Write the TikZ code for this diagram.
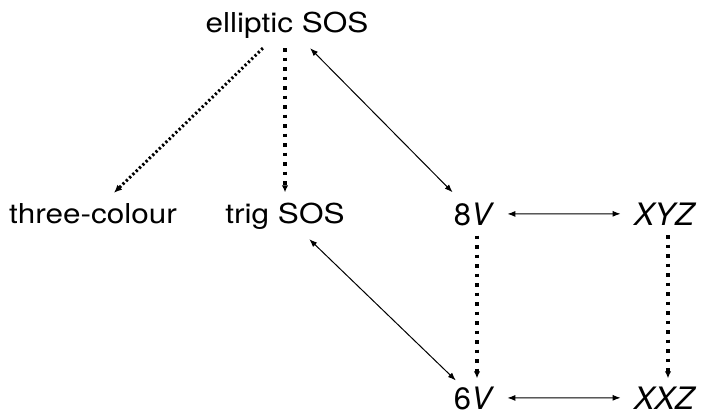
\documentclass[tikz,border=0pt]{standalone}
\usepackage{fontspec}
\setmainfont{TeX Gyre Heros}
\usetikzlibrary{arrows.meta}
\newcommand{\txtlbl}[1]{\scalebox{1.15}[1]{\fontsize{27.5}{30}\selectfont #1}}
\newcommand{\mthlbl}[1]{{\fontsize{31}{34}\selectfont #1}}
\begin{document}
\begin{tikzpicture}[x=1bp,y=-1bp,
  lbl/.style={inner xsep=13bp, inner ysep=10bp, anchor=base},
  solidarr/.style={line width=1bp, {Latex[length=8bp,width=6bp]}-{Latex[length=8bp,width=6bp]}},
  vdot/.style={line width=3.2bp, dash pattern=on 3.5bp off 6bp, -{Latex[length=7bp,width=6.5bp]}},
  ddot/.style={line width=3bp, dash pattern=on 2.2bp off 2.4bp, -{Latex[length=8bp,width=7bp]}}]
\useasboundingbox (0,0) rectangle (703,416);
\node[lbl] (ell) at (287,32) {\txtlbl{elliptic SOS}};
\node[lbl] (three) at (93,223) {\txtlbl{three-colour}};
\node[lbl] (trig) at (285,223) {\txtlbl{trig SOS}};
\node[lbl] (v8) at (474,225) {\mthlbl{8\textit{V}}};
\node[lbl] (xyz) at (665,225) {\mthlbl{\textit{XYZ}}};
\node[lbl, inner ysep=1bp] (v6) at (474,409) {\mthlbl{6\textit{V}}};
\node[lbl, inner ysep=1bp] (xxz) at (665,409) {\mthlbl{\textit{XXZ}}};
\draw[ddot] (ell) -- (three);
\draw[vdot] (ell.south -| trig.north) -- (trig.north);
\draw[solidarr] (ell) -- (v8);
\draw[solidarr, shorten >=7bp] (trig) -- (v6);
\draw[solidarr] (v8) -- (xyz);
\draw[solidarr] (v6) -- (xxz);
\draw[vdot, shorten >=7bp] ([xshift=3bp]v8.south) -- ([xshift=3bp]v6.north);
\draw[vdot, shorten >=7bp] ([xshift=3bp]xyz.south) -- ([xshift=3bp]xxz.north);
\end{tikzpicture}
\end{document}
